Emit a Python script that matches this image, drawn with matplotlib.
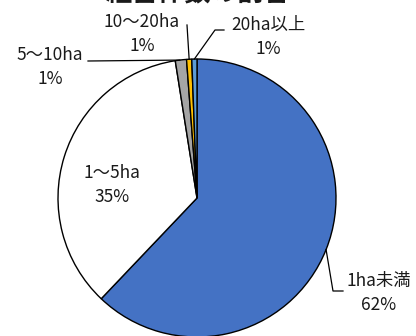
import matplotlib.pyplot as plt
import numpy as np

plt.rcParams['font.family'] = ['Noto Sans CJK JP', 'DejaVu Sans']

# 経営面積規模別の経営体数の割合 (%)
categories = ['1ha未満', '1～5ha', '5～10ha', '10～20ha', '20ha以上']
shares = [62.1, 35.4, 1.3, 0.6, 0.6]
colors = ['#4472C4', '#FFFFFF', '#A5A5A5', '#FFC000', '#5B9BD5']

W, H = 416, 336
fig = plt.figure(figsize=(W / 100, H / 100), dpi=100)
ax = fig.add_axes([0, 0, 1, 1])

cx, cy, r = 197, H - 198, 139
wedges, _ = ax.pie(shares, colors=colors, startangle=90, counterclock=False,
                   center=(cx, cy), radius=r, frame=True,
                   wedgeprops=dict(edgecolor='black', linewidth=1.0))
ax.set_xlim(0, W)
ax.set_ylim(0, H)
ax.set_aspect('equal')
ax.axis('off')


def edge_point(w, frac=0.5):
    ang = np.deg2rad(w.theta1 + (w.theta2 - w.theta1) * frac)
    return cx + r * np.cos(ang), cy + r * np.sin(ang)


def label(i):
    return f"{categories[i]}\n{int(shares[i] + 0.5)}%"


txt = dict(fontsize=12.5, color='#1a1a1a', ha='center', va='center',
           linespacing=1.4)
lead = dict(color='black', lw=0.9)

# 1ha未満
x0, y0 = edge_point(wedges[0], 0.5)
ax.plot([x0, 333, 343], [y0, H - 291, H - 291], **lead)
ax.text(379, H - 293, label(0), **txt)

# 1～5ha (扇形の中)
ax.text(112, H - 185, label(1), **txt)

# 5～10ha
x0, y0 = edge_point(wedges[2], 0.6)
ax.plot([88, x0], [H - 61, y0], **lead)
ax.text(50, H - 67, label(2), **txt)

# 10～20ha
x0, y0 = edge_point(wedges[3])
ax.plot([187, x0], [H - 25, y0], **lead)
ax.text(142, H - 34, label(3), **txt)

# 20ha以上
x0, y0 = edge_point(wedges[4])
ax.plot([x0, 215, 224], [y0, H - 30, H - 30], **lead)
ax.text(268, H - 37, label(4), **txt)

ax.text(198, H + 6, '経営体数の割合', fontsize=19, fontweight='bold',
        ha='center', va='center', color='#1a1a1a', clip_on=False)

fig.savefig('out.png', dpi=100)
